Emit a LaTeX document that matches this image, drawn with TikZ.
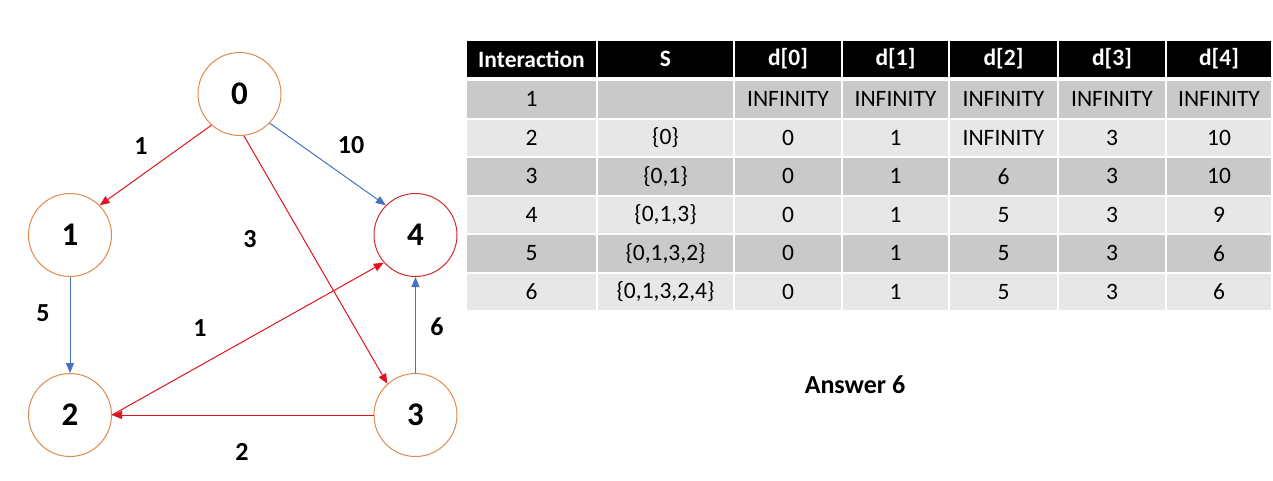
\documentclass[tikz,border=0pt]{standalone}
\usepackage{fontspec}
\setmainfont{Carlito}
\usetikzlibrary{arrows.meta}
\definecolor{nodeor}{HTML}{E08A4E}
\definecolor{nodered}{HTML}{D42A2A}
\definecolor{edgered}{HTML}{E0141E}
\definecolor{edgeblue}{HTML}{4472C4}
\definecolor{rowdark}{HTML}{C9C9C9}
\definecolor{rowlight}{HTML}{E7E7E7}

% one data row of the distance table: index, y-centre, fill style, S, d[0]..d[4]
\newcommand\trow[9]{%
  \node[cell,#3,minimum width=129pt] (r#1c0) at (531.5,#2) {#1};
  \node[cell,#3,minimum width=135pt] (r#1c1) at (665.5,#2) {#4};
  \node[cell,#3,minimum width=106pt] (r#1c2) at (788,#2) {#5};
  \node[cell,#3,minimum width=105pt] (r#1c3) at (895.5,#2) {#6};
  \node[cell,#3,minimum width=107pt] (r#1c4) at (1003.5,#2) {#7};
  \node[cell,#3,minimum width=106pt] (r#1c5) at (1112,#2) {#8};
  \node[cell,#3,minimum width=104pt] (r#1c6) at (1219,#2) {#9};
}

\tikzset{
  vertex/.style={circle, draw=nodeor, line width=1pt, minimum size=83pt, inner sep=0pt,
    font=\fontsize{33}{33}\selectfont\bfseries},
  edge/.style={line width=1pt, -{Triangle[length=10pt,width=8pt]}},
  wlabel/.style={font=\fontsize{26}{26}\selectfont\bfseries},
  cell/.style={rectangle, inner sep=0pt, minimum height=36.5pt,
    font=\fontsize{23.5}{24}\selectfont},
  dark/.style={fill=rowdark},
  light/.style={fill=rowlight},
  hcell/.style={cell, fill=black, text=white, minimum height=36pt,
    font=\fontsize{23.5}{24}\selectfont\bfseries},
}

\begin{document}
\begin{tikzpicture}[x=1pt,y=-1pt]
\useasboundingbox[fill=white] (0,0) rectangle (1273,480);

% graph vertices
\node[vertex] (n0) at (239.5,94) {0};
\node[vertex] (n1) at (70,235) {1};
\node[vertex, draw=nodered] (n4) at (415.5,235) {4};
\node[vertex] (n2) at (70,415) {2};
\node[vertex] (n3) at (415.5,415) {3};

% weighted edges
\draw[edge, edgered] (n0.228) -- (n1.45);
\draw[edge, edgeblue] (n0.316) -- (n4.135);
\draw[edge, edgered] (n0.276) -- (n3.132);
\draw[edge, edgeblue] (n1) -- (n2);
\draw[edge, edgered] (n3) -- (n2);
\draw[edge, edgered] (n2.east) -- (n4.221);
\draw[edge, edgeblue] (n3) -- (n4);

% edge weights
\node[wlabel] (w01) at (141,146) {1};
\node[wlabel] (w04) at (351,145) {10};
\node[wlabel] (w03) at (250,239) {3};
\node[wlabel] (w12) at (43,313) {5};
\node[wlabel] (w24) at (200,328) {1};
\node[wlabel] (w34) at (437,327) {6};
\node[wlabel] (w32) at (242,452) {2};

% table header
\node[hcell,minimum width=129pt] (h0) at (531.5,59) {Interaction};
\node[hcell,minimum width=135pt] (h1) at (665.5,59) {S};
\node[hcell,minimum width=106pt] (h2) at (788,59) {d[0]};
\node[hcell,minimum width=105pt] (h3) at (895.5,59) {d[1]};
\node[hcell,minimum width=107pt] (h4) at (1003.5,59) {d[2]};
\node[hcell,minimum width=106pt] (h5) at (1112,59) {d[3]};
\node[hcell,minimum width=104pt] (h6) at (1219,59) {d[4]};

% table body
\trow{1}{99.25}{dark}{}{INFINITY}{INFINITY}{INFINITY}{INFINITY}{INFINITY}
\trow{2}{137.75}{light}{\{0\}}{0}{1}{INFINITY}{3}{10}
\trow{3}{176.25}{dark}{\{0,1\}}{0}{1}{6}{3}{10}
\trow{4}{214.75}{light}{\{0,1,3\}}{0}{1}{5}{3}{9}
\trow{5}{253.25}{dark}{\{0,1,3,2\}}{0}{1}{5}{3}{6}
\trow{6}{291.75}{light}{\{0,1,3,2,4\}}{0}{1}{5}{3}{6}

\node[font=\fontsize{26}{26}\selectfont\bfseries] (ans) at (855,385) {Answer 6};
\end{tikzpicture}
\end{document}
